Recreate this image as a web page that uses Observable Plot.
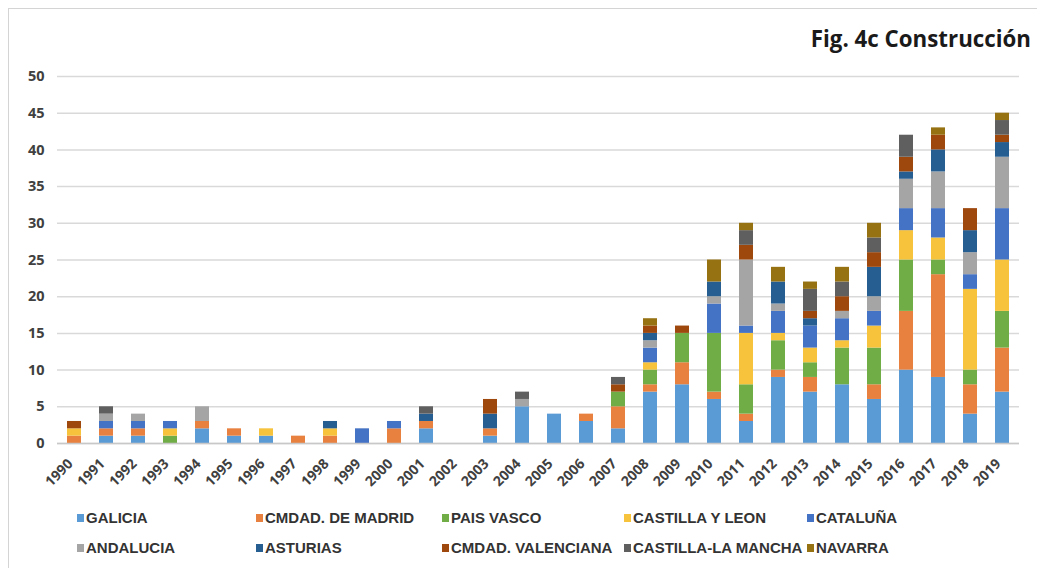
<!DOCTYPE html>
<html>
<head>
<meta charset="utf-8">
<script src="https://cdn.jsdelivr.net/npm/d3@7"></script>
<script src="https://cdn.jsdelivr.net/npm/@observablehq/plot@0.6"></script>
<style>
  html, body { margin: 0; padding: 0; background: #fff; }
  #wrap { position: relative; width: 1037px; height: 568px; overflow: hidden; font-family: "Open Sans", "Liberation Sans", sans-serif; }
  #frame { position: absolute; left: 8px; top: 8px; width: 1040px; height: 600px; border-left: 1px solid #d4d4d4; border-top: 1px solid #d4d4d4; }
  #title { position: absolute; right: 6px; top: 23px; font-size: 22.3px; font-weight: bold; color: #1a1a1a; }
  #chart { position: absolute; left: 0; top: 0; }
  .leg { position: absolute; font-family: "Liberation Sans", Arial, sans-serif; font-weight: bold; font-size: 15px; line-height: 18px; color: #333; white-space: nowrap; }
  .leg span.sw { display: inline-block; width: 7px; height: 8px; margin-right: 2px; vertical-align: 1px; }
</style>
</head>
<body>
<div id="wrap">
  <div id="frame"></div>
  <div id="chart"></div>
  <div id="title">Fig. 4c Construcción</div>
  <div id="legend"></div>
</div>
<script>
const years = d3.range(1990, 2020).map(String);
const regions = ["GALICIA", "CMDAD. DE MADRID", "PAIS VASCO", "CASTILLA Y LEON", "CATALUÑA",
                 "ANDALUCIA", "ASTURIAS", "CMDAD. VALENCIANA", "CASTILLA-LA MANCHA", "NAVARRA"];
const colors = ["#5b9bd5", "#e8803f", "#70ad47", "#f7c23c", "#4472c4",
                "#a5a5a5", "#265e91", "#9e480e", "#5f5f5f", "#967212"];

const galicia    = [0,1,1,0,2,1,1,0,0,0,0,2,0,1,5,4,3,2,7,8,6,3,9,7,8,6,10,9,4,7];
const madrid     = [1,1,1,0,1,1,0,1,1,0,2,1,0,1,0,0,1,3,1,3,1,1,1,2,0,2,8,14,4,6];
const paisVasco  = [0,0,0,1,0,0,0,0,0,0,0,0,0,0,0,0,0,2,2,4,8,4,4,2,5,5,7,2,2,5];
const castLeon   = [1,0,0,1,0,0,1,0,1,0,0,0,0,0,0,0,0,0,1,0,0,7,1,2,1,3,4,3,11,7];
const cataluna   = [0,1,1,1,0,0,0,0,0,2,1,0,0,0,0,0,0,0,2,0,4,1,3,3,3,2,3,4,2,7];
const andalucia  = [0,1,1,0,2,0,0,0,0,0,0,0,0,0,1,0,0,0,1,0,1,9,1,0,1,2,4,5,3,7];
const asturias   = [0,0,0,0,0,0,0,0,1,0,0,1,0,2,0,0,0,0,1,0,2,0,3,1,0,4,1,3,3,2];
const valencia   = [1,0,0,0,0,0,0,0,0,0,0,0,0,2,0,0,0,1,1,1,0,2,0,1,2,2,2,2,3,1];
const castMancha = [0,1,0,0,0,0,0,0,0,0,0,1,0,0,1,0,0,1,0,0,0,2,0,3,2,2,3,0,0,2];
const navarra    = [0,0,0,0,0,0,0,0,0,0,0,0,0,0,0,0,0,0,1,0,3,1,2,1,2,2,0,1,0,1];
const yTicks = [0,5,10,15,20,25,30,35,40,45,50];

const series = [galicia, madrid, paisVasco, castLeon, cataluna, andalucia, asturias, valencia, castMancha, navarra];
const rows = [];
series.forEach((vals, i) => vals.forEach((v, j) => { if (v > 0) rows.push({year: years[j], region: regions[i], value: v}); }));

const chart = Plot.plot({
  width: 1037,
  height: 500,
  marginLeft: 57,
  marginRight: 18,
  marginTop: 76,
  marginBottom: 57,
  style: { fontFamily: "'Open Sans', 'Liberation Sans', sans-serif", color: "#404040", background: "transparent" },
  x: { domain: years, paddingInner: 0.565, paddingOuter: 0.211, label: null },
  y: { domain: [0, 50], label: null },
  color: { domain: regions, range: colors },
  marks: [
    Plot.gridY(yTicks, { stroke: "#d9d9d9", strokeOpacity: 1, strokeWidth: 1.5 }),
    Plot.axisY(yTicks, { tickSize: 0, tickPadding: 13, fontSize: 14.5, fontWeight: "bold", label: null }),
    Plot.axisX({ tickSize: 0, tickPadding: 11, tickRotate: -45, fontSize: 14, fontWeight: "bold", label: null, dx: -4, dy: 7 }),
    Plot.barY(rows, { x: "year", y: "value", fill: "region", order: null }),
    Plot.ruleY([0], { stroke: "#c8c8c8", strokeWidth: 1.5 })
  ]
});
document.getElementById("chart").appendChild(chart);

const legend = document.getElementById("legend");
const colX = [77, 256, 442, 624, 807];
regions.forEach((r, i) => {
  const d = document.createElement("div");
  d.className = "leg";
  d.style.left = colX[i % 5] + "px";
  d.style.top = (i < 5 ? 509 : 539) + "px";
  d.innerHTML = `<span class="sw" style="background:${colors[i]}"></span>${r}`;
  legend.appendChild(d);
});
</script>
</body>
</html>
